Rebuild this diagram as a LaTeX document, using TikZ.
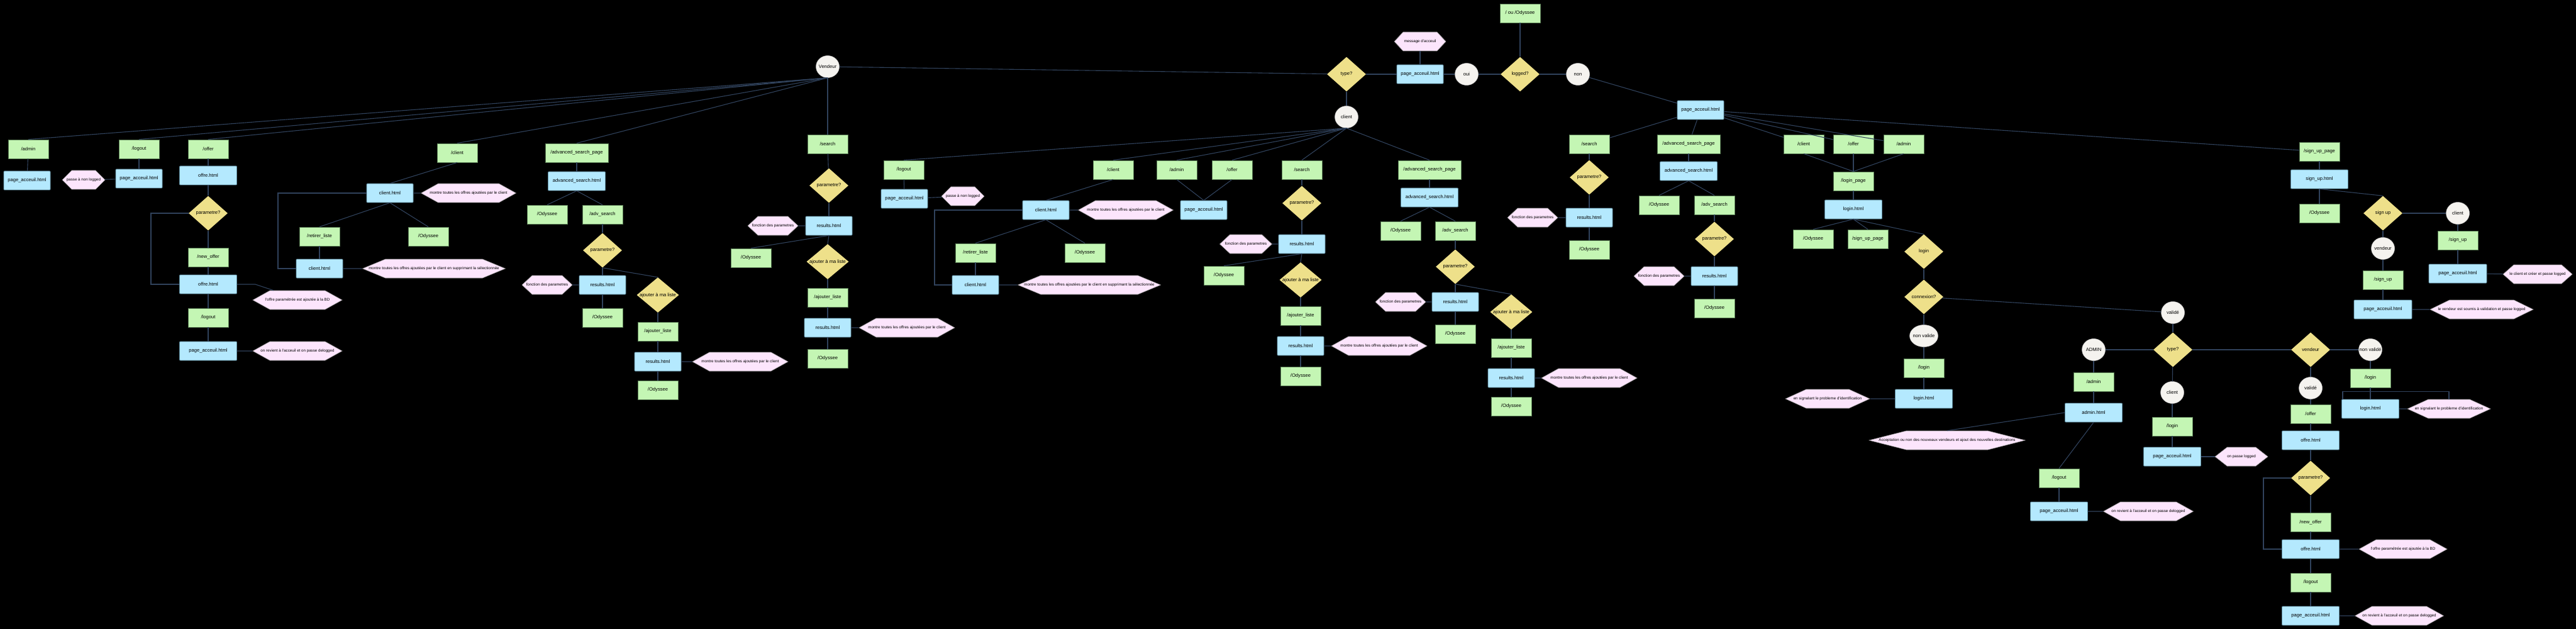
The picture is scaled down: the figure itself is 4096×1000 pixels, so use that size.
\documentclass[tikz,border=0pt]{standalone}
\usepackage{fontspec}
\setmainfont{Liberation Sans}
\usetikzlibrary{shapes.geometric,shapes.symbols}
\definecolor{gfill}{RGB}{196,246,180}
\definecolor{gdraw}{RGB}{90,125,85}
\definecolor{bfill}{RGB}{180,233,254}
\definecolor{bdraw}{RGB}{95,140,160}
\definecolor{yfill}{RGB}{238,224,138}
\definecolor{cfill}{RGB}{245,243,239}
\definecolor{cdraw}{RGB}{200,200,200}
\definecolor{hfill}{RGB}{252,229,252}
\definecolor{hdraw}{RGB}{150,150,150}
\definecolor{lcol}{RGB}{48,66,92}
\newcommand\zt[1]{\makebox[0pt]{#1}}
\begin{document}
\begin{tikzpicture}[x=1pt,y=-1pt,
 base/.style={font=\fontsize{7.6}{8}\selectfont, inner sep=0pt, text=black},
 gbox/.style={base, rectangle, fill=gfill, draw=gdraw, line width=0.8pt, minimum width=64pt, minimum height=30pt},
 bbox/.style={base, rectangle, fill=bfill, draw=bdraw, line width=0.8pt, minimum width=74pt, minimum height=30pt, rounded corners=1pt},
 bw/.style={minimum width=91pt},
 dia/.style={base, diamond, fill=yfill, draw=none, minimum width=62pt, minimum height=55pt},
 diaw/.style={minimum width=67pt, minimum height=56pt},
 circ/.style={base, ellipse, fill=cfill, draw=cdraw, line width=0.5pt, minimum width=37pt, minimum height=35pt},
 hexa/.style={font=\fontsize{6.2}{7}\selectfont, shape=signal, signal to=west and east, signal pointer angle=#1, fill=hfill, draw=hdraw, line width=0.6pt, minimum height=30pt, inner sep=0pt},
 ln/.style={draw=lcol, line width=1.1pt}]
\fill[black] (0,0) rectangle (4096,1000);
\useasboundingbox (0,0) rectangle (4096,1000);
% top
\node[gbox] (root) at (2417,21) {/ ou /Odyssee};
\node[dia] (logged) at (2417,118) {\zt{logged?}};
\node[circ] (oui) at (2332,118) {\zt{oui}};
\node[circ] (non) at (2509,118) {\zt{non}};
\node[bbox] (pa0) at (2258,118) {page\_acceuil.html};
\node[hexa=94, minimum width=82pt] (msg) at (2258,66) {\zt{message d'acceuil}};
\node[dia] (typeA) at (2141,118) {\zt{type?}};
\node[circ] (ven) at (1316,106) {\zt{Vendeur}};
\node[circ] (cli) at (2141,186) {\zt{client}};
% vendeur branch
\node[gbox] (vadm) at (45,237) {/admin};
\node[bbox] (vadmpa) at (43,287) {page\_acceuil.html};
\node[gbox] (vlo) at (221,237) {/logout};
\node[bbox] (vlopa) at (221,284) {page\_acceuil.html};
\node[hexa=90, minimum width=68pt] (vlohx) at (133,286) {\zt{passe à non logged}};
\node[gbox] (vof) at (331,237) {/offer};
\node[bbox,bw] (vofh) at (331,279) {offre.html};
\node[dia] (vofd) at (331,339) {\zt{parametre?}};
\node[gbox] (vno) at (331,409) {/new\_offer};
\node[bbox,bw] (vofh2) at (331,452) {offre.html};
\node[hexa=58, minimum width=142pt] (vofhx) at (473,477) {\zt{l'offre paramétrée est ajoutée à la BD}};
\node[gbox] (vlo2) at (331,505) {/logout};
\node[bbox,bw] (vlo2pa) at (331,558) {page\_acceuil.html};
\node[hexa=58, minimum width=142pt] (vlo2hx) at (473,558) {\zt{on revient à l'acceuil et on passe delogged}};
\node[gbox] (vcl) at (727,243) {/client};
\node[bbox] (vclh) at (620,307) {client.html};
\node[hexa=58, minimum width=151pt] (vclhx) at (745,307) {\zt{montre toutes les offres ajoutées par le client}};
\node[gbox] (vrl) at (508,376) {/retirer\_liste};
\node[gbox] (vody1) at (681,376) {/Odyssee};
\node[bbox] (vclh2) at (508,427) {client.html};
\node[hexa=45, minimum width=227pt] (vclhx2) at (690,427) {\zt{montre toutes les offres ajoutées par le client en supprimant la sélectionnée}};
\node[gbox, minimum width=100pt] (vasp) at (917,243) {/advanced\_search\_page};
\node[bbox,bw] (vash) at (917,288) {advanced\_search.html};
\node[gbox] (vody2) at (870,341) {/Odyssee};
\node[gbox] (vadvs) at (958,341) {/adv\_search};
\node[dia] (vadd) at (958,398) {\zt{parametre?}};
\node[bbox] (vadr) at (958,453) {results.html};
\node[hexa=86, minimum width=80pt] (vadfx) at (870,453) {\zt{fonction des parametres}};
\node[gbox] (vody3) at (958,505) {/Odyssee};
\node[dia,diaw] (vadaj) at (1046,469) {\zt{ajouter à ma liste}};
\node[gbox] (vadal) at (1046,527) {/ajouter\_liste};
\node[bbox] (vadr2) at (1046,575) {results.html};
\node[hexa=58, minimum width=152pt] (vadmx) at (1177,575) {\zt{montre toutes les offres ajoutées par le client}};
\node[gbox] (vody4) at (1046,620) {/Odyssee};
\node[gbox] (vse) at (1316,229) {/search};
\node[dia] (vsed) at (1318,295) {\zt{parametre?}};
\node[bbox] (vser) at (1318,359) {results.html};
\node[hexa=86, minimum width=80pt] (vsefx) at (1229,359) {\zt{fonction des parametres}};
\node[gbox] (vody5) at (1194,410) {/Odyssee};
\node[dia,diaw] (vseaj) at (1316,416) {\zt{ajouter à ma liste}};
\node[gbox] (vseal) at (1316,473) {/ajouter\_liste};
\node[bbox] (vser2) at (1316,521) {results.html};
\node[hexa=58, minimum width=152pt] (vsemx) at (1442,521) {\zt{montre toutes les offres ajoutées par le client}};
\node[gbox] (vody6) at (1316,570) {/Odyssee};
% client branch
\node[gbox] (clo) at (1437,270) {/logout};
\node[bbox] (clopa) at (1438,316) {page\_acceuil.html};
\node[hexa=90, minimum width=68pt] (clohx) at (1531,312) {\zt{passe à non logged}};
\node[gbox] (ccl) at (1770,270) {/client};
\node[bbox] (cclh) at (1663,334) {client.html};
\node[hexa=58, minimum width=151pt] (cclhx) at (1790,334) {\zt{montre toutes les offres ajoutées par le client}};
\node[gbox] (crl) at (1551,402) {/retirer\_liste};
\node[gbox] (cody1) at (1725,402) {/Odyssee};
\node[bbox] (cclh2) at (1551,453) {client.html};
\node[hexa=45, minimum width=227pt] (cclhx2) at (1732,453) {\zt{montre toutes les offres ajoutées par le client en supprimant la sélectionnée}};
\node[gbox] (cadm) at (1871,270) {/admin};
\node[gbox] (cof) at (1959,270) {/offer};
\node[bbox] (cpa) at (1914,334) {page\_acceuil.html};
\node[gbox] (cse) at (2070,270) {/search};
\node[dia] (csed) at (2070,323) {\zt{parametre?}};
\node[bbox] (cser) at (2070,388) {results.html};
\node[hexa=86, minimum width=83pt] (csefx) at (1981,388) {\zt{fonction des parametres}};
\node[gbox] (cody2) at (1946,438) {/Odyssee};
\node[dia,diaw] (cseaj) at (2068,445) {\zt{ajouter à ma liste}};
\node[gbox] (cseal) at (2068,502) {/ajouter\_liste};
\node[bbox] (cser2) at (2068,550) {results.html};
\node[hexa=58, minimum width=152pt] (csemx) at (2193,550) {\zt{montre toutes les offres ajoutées par le client}};
\node[gbox] (cody3) at (2068,598) {/Odyssee};
\node[gbox, minimum width=100pt] (casp) at (2273,270) {/advanced\_search\_page};
\node[bbox,bw] (cash) at (2273,314) {advanced\_search.html};
\node[gbox] (cody4) at (2227,367) {/Odyssee};
\node[gbox] (cadvs) at (2314,367) {/adv\_search};
\node[dia] (cadd) at (2314,424) {\zt{parametre?}};
\node[bbox] (cadr) at (2314,480) {results.html};
\node[hexa=86, minimum width=80pt] (cadfx) at (2227,480) {\zt{fonction des parametres}};
\node[gbox] (cody5) at (2314,531) {/Odyssee};
\node[dia,diaw] (cadaj) at (2403,496) {\zt{ajouter à ma liste}};
\node[gbox] (cadal) at (2403,553) {/ajouter\_liste};
\node[bbox] (cadr2) at (2403,601) {results.html};
\node[hexa=58, minimum width=152pt] (cadmx) at (2527,601) {\zt{montre toutes les offres ajoutées par le client}};
\node[gbox] (cody6) at (2403,646) {/Odyssee};
% non branch
\node[bbox] (pa1) at (2704,175) {page\_acceuil.html};
\node[gbox] (nse) at (2527,229) {/search};
\node[dia] (nsed) at (2527,282) {\zt{parametre?}};
\node[bbox] (nser) at (2527,346) {results.html};
\node[hexa=86, minimum width=80pt] (nsefx) at (2437,346) {\zt{fonction des parametres}};
\node[gbox] (nody1) at (2527,397) {/Odyssee};
\node[gbox, minimum width=100pt] (nasp) at (2685,229) {/advanced\_search\_page};
\node[bbox,bw] (nash) at (2685,272) {advanced\_search.html};
\node[gbox] (nody2) at (2638,326) {/Odyssee};
\node[gbox] (nadvs) at (2726,326) {/adv\_search};
\node[dia] (nadd) at (2726,380) {\zt{parametre?}};
\node[bbox] (nadr) at (2726,439) {results.html};
\node[hexa=86, minimum width=80pt] (nadfx) at (2638,439) {\zt{fonction des parametres}};
\node[gbox] (nody3) at (2726,490) {/Odyssee};
\node[gbox] (ncl) at (2868,229) {/client};
\node[gbox] (nof) at (2947,229) {/offer};
\node[gbox] (nadm) at (3027,229) {/admin};
\node[gbox] (nlp) at (2947,288) {/login\_page};
\node[bbox,bw] (nlh) at (2947,333) {login.html};
\node[gbox] (nody4) at (2883,380) {/Odyssee};
\node[gbox] (nsup) at (2970,380) {/sign\_up\_page};
\node[dia] (login) at (3059,400) {\zt{login}};
\node[dia] (conn) at (3059,472) {\zt{connexion?}};
\node[circ, minimum width=45pt] (nv) at (3059,534) {\zt{non valide}};
\node[gbox] (nlg) at (3059,585) {/login};
\node[bbox,bw] (nlgh) at (3059,634) {login.html};
\node[hexa=49, minimum width=134pt] (nlghx) at (2906,634) {\zt{en signalant le probleme d'identification}};
\node[circ] (val) at (3455,497) {\zt{validé}};
\node[dia] (typeB) at (3455,556) {\zt{type?}};
\node[circ] (adminc) at (3329,556) {\zt{ADMIN}};
\node[gbox] (aadm) at (3329,607) {/admin};
\node[bbox,bw] (ah) at (3329,656) {admin.html};
\node[hexa=28.5, minimum width=248pt] (ahx) at (3096,700) {\zt{Acceptation ou non des nouveaux vendeurs et ajout des nouvelles destinations}};
\node[gbox] (alo) at (3274,760) {/logout};
\node[bbox,bw] (apa) at (3274,813) {page\_acceuil.html};
\node[hexa=58, minimum width=143pt] (ahx2) at (3416,813) {\zt{on revient à l'acceuil et on passe delogged}};
\node[circ] (clientc) at (3454,624) {\zt{client}};
\node[gbox] (cclg) at (3454,678) {/login};
\node[bbox,bw] (ccpa) at (3454,726) {page\_acceuil.html};
\node[hexa=76, minimum width=84pt] (cchx) at (3564,726) {\zt{on passe logged}};
\node[dia] (vdd) at (3674,556) {\zt{vendeur}};
\node[circ] (vval) at (3674,617) {\zt{validé}};
\node[gbox] (vo) at (3674,658) {/offer};
\node[bbox,bw] (voh) at (3674,700) {offre.html};
\node[dia] (vod) at (3674,760) {\zt{parametre?}};
\node[gbox] (vno2) at (3674,830) {/new\_offer};
\node[bbox,bw] (voh2) at (3674,873) {offre.html};
\node[hexa=58, minimum width=140pt] (vohx) at (3821,873) {\zt{l'offre paramétrée est ajoutée à la BD}};
\node[gbox] (vlo3) at (3674,926) {/logout};
\node[bbox,bw] (vlo3pa) at (3674,979) {page\_acceuil.html};
\node[hexa=58, minimum width=141pt] (vlo3hx) at (3815,979) {\zt{on revient à l'acceuil et on passe delogged}};
\node[circ] (nvv) at (3769,556) {\zt{non validé}};
\node[gbox] (nvlg) at (3769,601) {/login};
\node[bbox,bw] (nvlh) at (3769,650) {login.html};
\node[hexa=49, minimum width=132pt] (nvhx) at (3894,650) {\zt{en signalant le probleme d'identification}};
\node[gbox] (sup2) at (3688,241) {/sign\_up\_page};
\node[bbox,bw] (suh) at (3688,285) {sign\_up.html};
\node[gbox] (sody) at (3688,339) {/Odyssee};
\node[dia] (sud) at (3789,339) {\zt{sign up}};
\node[circ] (suc) at (3908,339) {\zt{client}};
\node[gbox] (sucs) at (3908,382) {/sign\_up};
\node[bbox, minimum width=92pt] (sucpa) at (3908,435) {page\_acceuil.html};
\node[hexa=83, minimum width=110pt] (suchx) at (4035,436) {\zt{le client et créer et passe logged}};
\node[circ] (suv) at (3789,395) {\zt{vendeur}};
\node[gbox] (suvs) at (3789,445) {/sign\_up};
\node[bbox, minimum width=92pt] (suvpa) at (3789,492) {page\_acceuil.html};
\node[hexa=52, minimum width=164pt] (suvhx) at (3946,492) {\zt{le vendeur est soumis à validation et passe logged}};
% ---------------- connectors
\begin{scope}[ln]
\draw (root)--(logged); \draw (logged)--(oui); \draw (oui)--(pa0); \draw (pa0)--(msg);
\draw (pa0)--(typeA); \draw (typeA)--(ven); \draw (typeA)--(cli); \draw (logged)--(non); \draw (non)--(pa1);
% vendeur
\foreach \t in {vadm,vlo,vof,vcl,vasp} \draw (ven.south)--(\t.north);
\draw (ven)--(vse);
\draw (vadm)--(vadmpa); \draw (vlo)--(vlopa); \draw (vlopa)--(vlohx);
\draw (vof)--(vofh); \draw (vofh)--(vofd); \draw (vofd)--(vno); \draw (vno)--(vofh2);
\draw (vofh2)--(vlo2); \draw (vlo2)--(vlo2pa); \draw (vlo2pa)--(vlo2hx);
\draw (vofd.west)--(240,339)|-(vofh2.west);
\draw (vofh2.east)--++(29,0)--([xshift=-38pt]vofhx.north);
\draw (vcl.south)--(vclh.north); \draw (vclh)--(vclhx);
\draw (vclh.south)--(vrl.north); \draw (vclh.south)--(vody1.north);
\draw (vrl)--(vclh2); \draw (vclh2)--(vclhx2);
\draw (vclh.west)--(442,307)|-(vclh2.west);
\draw (vasp)--(vash); \draw (vash.south)--(vody2.north); \draw (vash.south)--(vadvs.north);
\draw (vadvs)--(vadd); \draw (vadd)--(vadr); \draw (vadr)--(vadfx); \draw (vadr)--(vody3);
\draw (vadd.south)--(vadaj.north); \draw (vadaj)--(vadal); \draw (vadal)--(vadr2);
\draw (vadr2)--(vadmx); \draw (vadr2)--(vody4);
\draw (vse)--(vsed); \draw (vsed)--(vser); \draw (vser)--(vsefx);
\draw (vser.south)--(vody5.north); \draw (vser.south)--(vseaj.north);
\draw (vseaj)--(vseal); \draw (vseal)--(vser2); \draw (vser2)--(vsemx); \draw (vser2)--(vody6);
% client
\foreach \t in {clo,ccl,cadm,cof,cse,casp} \draw (cli.south)--(\t.north);
\draw (clo)--(clopa); \draw (clopa)--(clohx);
\draw (ccl.south)--(cclh.north); \draw (cclh)--(cclhx);
\draw (cclh.south)--(crl.north); \draw (cclh.south)--(cody1.north);
\draw (crl)--(cclh2); \draw (cclh2)--(cclhx2);
\draw (cclh.west)--(1486,334)|-(cclh2.west);
\draw (cadm.south)--(cpa.north); \draw (cof.south)--(cpa.north);
\draw (cse)--(csed); \draw (csed)--(cser); \draw (cser)--(csefx);
\draw (cser.south)--(cody2.north); \draw (cser.south)--(cseaj.north);
\draw (cseaj)--(cseal); \draw (cseal)--(cser2); \draw (cser2)--(csemx); \draw (cser2)--(cody3);
\draw (casp)--(cash); \draw (cash.south)--(cody4.north); \draw (cash.south)--(cadvs.north);
\draw (cadvs)--(cadd); \draw (cadd)--(cadr); \draw (cadr)--(cadfx); \draw (cadr)--(cody5);
\draw (cadd.south)--(cadaj.north); \draw (cadaj)--(cadal); \draw (cadal)--(cadr2);
\draw (cadr2)--(cadmx); \draw (cadr2)--(cody6);
% non
\foreach \t in {nse,nasp,ncl,nof,nadm,sup2} \draw (pa1)--(\t);
\draw (nse)--(nsed); \draw (nsed)--(nser); \draw (nser)--(nsefx); \draw (nser)--(nody1);
\draw (nasp)--(nash); \draw (nash.south)--(nody2.north); \draw (nash.south)--(nadvs.north);
\draw (nadvs)--(nadd); \draw (nadd)--(nadr); \draw (nadr)--(nadfx); \draw (nadr)--(nody3);
\draw (ncl.south)--(nlp.north); \draw (nof)--(nlp); \draw (nadm.south)--(nlp.north);
\draw (nlp)--(nlh); \draw (nlh.south)--(nody4.north); \draw (nlh.south)--(nsup.north);
\draw (nlh.south)--(login.north);
\draw (login)--(conn); \draw (conn)--(nv); \draw (nv)--(nlg); \draw (nlg)--(nlgh); \draw (nlgh)--(nlghx);
\draw (conn)--(val);
\draw (val)--(typeB); \draw (typeB)--(adminc); \draw (typeB)--(vdd); \draw (typeB)--(clientc);
\draw (adminc)--(aadm); \draw (aadm)--(ah); \draw (ah.west)--(ahx.north);
\draw (ah.south)--(alo.north); \draw (alo)--(apa); \draw (apa)--(ahx2);
\draw (clientc)--(cclg); \draw (cclg)--(ccpa); \draw (ccpa)--(cchx);
\draw (vdd)--(nvv); \draw (vdd)--(vval); \draw (vval)--(vo); \draw (vo)--(voh); \draw (voh)--(vod);
\draw (vod)--(vno2); \draw (vno2)--(voh2); \draw (voh2)--(vlo3); \draw (vlo3)--(vlo3pa);
\draw (voh2)--(vohx); \draw (vlo3pa)--(vlo3hx);
\draw (vod.west)--(3599,760)|-(voh2.west);
\draw (nvv)--(nvlg); \draw (nvlg)--(nvlh); \draw (nvlh)--(nvhx);
\draw ([xshift=-44pt]nvlh.north)--++(0,-12)-|(nvhx.north);
\draw (sup2)--(suh); \draw (suh)--(sody); \draw (suh.south)--(sud.north);
\draw (sud)--(suc); \draw (sud)--(suv);
\draw (suc)--(sucs); \draw (sucs)--(sucpa); \draw (sucpa)--(suchx);
\draw (suv)--(suvs); \draw (suvs)--(suvpa); \draw (suvpa)--(suvhx);
\end{scope}
\end{tikzpicture}
\end{document}
